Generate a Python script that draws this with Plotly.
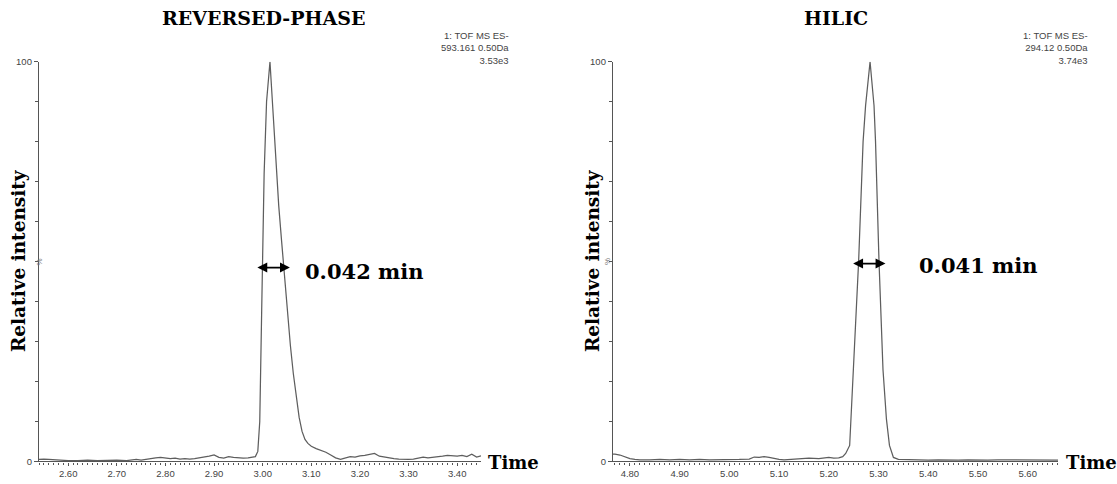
import plotly.graph_objects as go

W, H = 1117, 484

# ---------------- data ----------------
rp_time = [2.540, 2.550, 2.560, 2.570, 2.580, 2.590, 2.600, 2.620, 2.640, 2.660, 2.680, 2.700,
           2.720, 2.740, 2.750, 2.760, 2.770, 2.780, 2.790, 2.800, 2.810, 2.820, 2.830, 2.840,
           2.850, 2.860, 2.870, 2.880, 2.890, 2.900, 2.910, 2.920, 2.930, 2.940, 2.950, 2.960,
           2.970, 2.980, 2.985, 2.990, 2.994, 2.998, 3.003, 3.008, 3.015, 3.021, 3.027, 3.033,
           3.039, 3.045, 3.051, 3.057, 3.063, 3.069, 3.075, 3.081, 3.087, 3.093, 3.100, 3.110,
           3.120, 3.130, 3.140, 3.150, 3.160, 3.170, 3.180, 3.190, 3.200, 3.210, 3.220, 3.230,
           3.240, 3.250, 3.260, 3.270, 3.280, 3.290, 3.300, 3.310, 3.320, 3.330, 3.340, 3.350,
           3.360, 3.370, 3.380, 3.390, 3.400, 3.410, 3.420, 3.430, 3.440, 3.449]
rp_int = [0.5, 0.6, 0.5, 0.4, 0.3, 0.3, 0.2, 0.2, 0.3, 0.2, 0.3, 0.3,
          0.2, 0.5, 0.3, 0.5, 0.8, 0.9, 1.0, 0.9, 0.7, 0.8, 0.6, 0.7,
          0.6, 0.7, 0.9, 1.0, 1.3, 1.6, 1.0, 0.8, 1.2, 1.0, 0.9, 0.8,
          0.9, 1.0, 1.2, 2.5, 10, 38, 72, 90, 100, 88, 75, 64,
          55, 46, 37, 29, 22, 16, 11, 7.5, 5.5, 4.5, 3.8, 3.2,
          2.8, 2.3, 1.6, 0.9, 0.5, 0.8, 1.2, 1.1, 1.4, 1.5, 1.7, 2.0,
          1.3, 1.1, 0.8, 0.7, 0.6, 0.5, 0.5, 0.6, 0.8, 1.1, 0.9, 1.0,
          1.2, 1.3, 1.5, 1.4, 1.3, 1.5, 1.2, 1.8, 1.1, 1.4]

hilic_time = [4.766, 4.770, 4.780, 4.790, 4.800, 4.810, 4.820, 4.840, 4.860, 4.880, 4.900, 4.920,
              4.940, 4.960, 4.980, 5.000, 5.020, 5.040, 5.050, 5.060, 5.070, 5.080, 5.090, 5.100,
              5.110, 5.120, 5.140, 5.160, 5.180, 5.190, 5.200, 5.210, 5.220, 5.228, 5.234, 5.242,
              5.250, 5.260, 5.269, 5.274, 5.283, 5.291, 5.294, 5.301, 5.309, 5.316, 5.322, 5.330,
              5.340, 5.360, 5.380, 5.400, 5.420, 5.440, 5.460, 5.480, 5.500, 5.520, 5.540, 5.560,
              5.580, 5.600, 5.620, 5.640, 5.661]
hilic_int = [1.8, 1.8, 1.6, 1.2, 0.7, 0.5, 0.4, 0.4, 0.5, 0.4, 0.5, 0.4,
             0.5, 0.4, 0.4, 0.5, 0.5, 0.6, 1.1, 1.0, 1.2, 1.0, 0.7, 0.5,
             0.4, 0.5, 0.7, 0.8, 0.7, 0.9, 1.0, 0.8, 0.9, 1.2, 2.0, 4.0,
             23, 50, 80, 89, 100, 89, 80, 50, 23, 10.5, 4.0, 1.0,
             0.5, 0.4, 0.4, 0.3, 0.4, 0.3, 0.3, 0.4, 0.3, 0.3, 0.4, 0.4,
             0.3, 0.4, 0.3, 0.3, 0.3]

rp_range = [2.540, 3.449]
hilic_range = [4.766, 5.661]
xtick_step = 0.1
ytick_vals = [0, 100]
ytick_text = ["0", "100"]

rp_width_label = "0.042 min"
hilic_width_label = "0.041 min"
rp_arrow = [2.986, 3.056]
hilic_arrow = [5.246, 5.314]
rp_info = "1: TOF MS ES-<br>593.161 0.50Da<br>3.53e3"
hilic_info = "1: TOF MS ES-<br>294.12 0.50Da<br>3.74e3"

# ---------------- layout helpers ----------------
def px(x):
    return x / W

def py(y):
    return 1 - y / H

LDOM = [px(39), px(481)]
RDOM = [px(613), px(1058)]
YDOM = [py(466), py(57)]

AX_COLOR = "#555555"
TICK_FONT = dict(family="Liberation Sans, Arial", size=9.5, color="#444444")
SERIF = "DejaVu Serif, serif"

fig = go.Figure()
fig.add_trace(go.Scatter(x=rp_time, y=rp_int, mode="lines",
                         line=dict(color="#5e5e5e", width=1.25), xaxis="x", yaxis="y",
                         showlegend=False, hoverinfo="x+y"))
fig.add_trace(go.Scatter(x=hilic_time, y=hilic_int, mode="lines",
                         line=dict(color="#5e5e5e", width=1.25), xaxis="x2", yaxis="y2",
                         showlegend=False, hoverinfo="x+y"))

def xaxis(dom, rng, anchor):
    return dict(domain=dom, range=rng, anchor=anchor, showgrid=False, zeroline=False,
                showline=True, linecolor=AX_COLOR, linewidth=1.3,
                ticks="outside", ticklen=3, tickcolor=AX_COLOR, tickwidth=1,
                dtick=xtick_step, tick0=0, tickformat=".2f", tickfont=TICK_FONT,
                minor=dict(dtick=0.01, ticklen=2, tickcolor=AX_COLOR, tickwidth=1, ticks="outside"),
                fixedrange=True)

def yaxis(anchor):
    return dict(domain=YDOM, range=[0, 100], anchor=anchor, showgrid=False, zeroline=False,
                showline=True, linecolor=AX_COLOR, linewidth=1.3,
                ticks="outside", ticklen=4, tickcolor=AX_COLOR, tickwidth=1,
                tickmode="array", tickvals=ytick_vals, ticktext=ytick_text, tickfont=TICK_FONT,
                minor=dict(dtick=10, tick0=0, ticklen=3, tickcolor=AX_COLOR, tickwidth=1, ticks="outside"),
                fixedrange=True)

fig.update_layout(
    width=W, height=H, margin=dict(l=0, r=0, t=0, b=0),
    paper_bgcolor="white", plot_bgcolor="white",
    xaxis=xaxis(LDOM, rp_range, "y"),
    yaxis=yaxis("x"),
    xaxis2=xaxis(RDOM, hilic_range, "y2"),
    yaxis2=yaxis("x2"),
)

ann = []
# titles
ann.append(dict(text="<b>REVERSED-PHASE</b>", x=px(263), y=py(12), xref="paper", yref="paper",
                showarrow=False, font=dict(family=SERIF, size=19, color="black"), xanchor="center", yanchor="middle"))
ann.append(dict(text="<b>HILIC</b>", x=px(836), y=py(12), xref="paper", yref="paper",
                showarrow=False, font=dict(family=SERIF, size=19, color="black"), xanchor="center", yanchor="middle"))
# info text
for txt, xp in [(rp_info, 511), (hilic_info, 1090)]:
    ann.append(dict(text=txt, x=px(xp), y=py(23), xref="paper", yref="paper", showarrow=False,
                    align="right", xanchor="right", yanchor="top",
                    font=dict(family="Liberation Sans, Arial", size=9.5, color="#444444")))
# y titles
for xp in [18, 592]:
    ann.append(dict(text="<b>Relative intensity</b>", x=px(xp), y=py(261), xref="paper", yref="paper",
                    showarrow=False, textangle=-90, xanchor="center", yanchor="middle",
                    font=dict(family=SERIF, size=18.5, color="black")))
# % labels
for xp in [33, 607]:
    ann.append(dict(text="%", x=px(xp), y=py(262), xref="paper", yref="paper", showarrow=False,
                    textangle=-90, font=dict(family="Liberation Sans, Arial", size=8, color="#777777")))
# Time labels
for xp in [486, 1064]:
    ann.append(dict(text="<b>Time</b>", x=px(xp), y=py(467), xref="paper", yref="paper", showarrow=False,
                    xanchor="left", yanchor="middle", font=dict(family=SERIF, size=18, color="black")))
# width arrows
for (a, b), xr, yr, yv in [(rp_arrow, "x", "y", 48.5), (hilic_arrow, "x2", "y2", 49.5)]:
    ann.append(dict(x=b, y=yv, ax=a, ay=yv, xref=xr, yref=yr, axref=xr, ayref=yr, text="",
                    showarrow=True, arrowhead=2, startarrowhead=2, arrowside="end+start",
                    arrowsize=1.1, arrowwidth=1.8, arrowcolor="black", standoff=0, startstandoff=0))
# width labels
ann.append(dict(text="<b>" + rp_width_label + "</b>", x=px(303), y=py(272), xref="paper", yref="paper",
                showarrow=False, xanchor="left", yanchor="middle", font=dict(family=SERIF, size=21, color="black")))
ann.append(dict(text="<b>" + hilic_width_label + "</b>", x=px(917), y=py(266), xref="paper", yref="paper",
                showarrow=False, xanchor="left", yanchor="middle", font=dict(family=SERIF, size=21, color="black")))

fig.update_layout(annotations=ann)
fig.write_html("out.html", config={"displayModeBar": False},
               post_script="document.body.style.margin='0';document.body.style.overflow='hidden';")
